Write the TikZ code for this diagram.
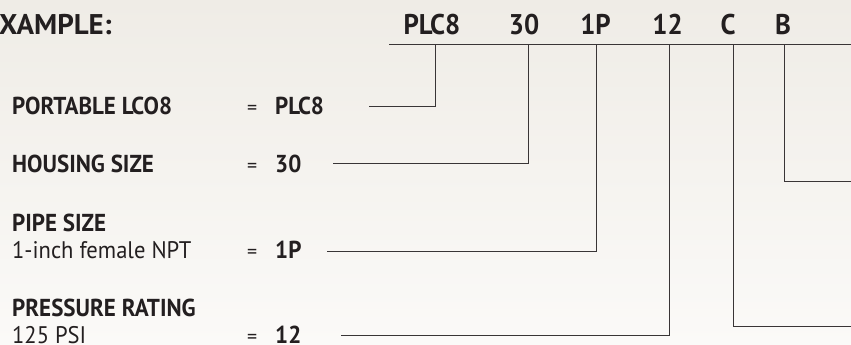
\documentclass[tikz,border=0pt]{standalone}
\usepackage{fontspec}
\setmainfont{PT Sans}
\newfontfamily\condfont[FakeStretch=0.94]{PT Sans}
\usetikzlibrary{calc}
\definecolor{ink}{HTML}{231F20}
\definecolor{bgtop}{HTML}{EFECE6}
\definecolor{bgbot}{HTML}{FBFAF8}
\begin{document}
\begin{tikzpicture}[x=1pt,y=-1pt,
  head/.style={inner sep=0pt,text=ink,font=\condfont\fontsize{28.5}{28.5}\selectfont\bfseries},
  lab/.style={anchor=base west,inner sep=0pt,text=ink,font=\condfont\fontsize{24.5}{24.5}\selectfont\bfseries},
  sub/.style={anchor=base west,inner sep=0pt,text=ink,font=\condfont\fontsize{24}{24}\selectfont},
  eq/.style={anchor=base west,inner sep=0pt,text=ink,font=\fontsize{20}{20}\selectfont},
  conn/.style={draw=ink!90,line width=1pt}]
\useasboundingbox (0,0) rectangle (851,345);
\clip (0,0) rectangle (851,345);
\shade[top color=bgtop,bottom color=bgbot] (0,0) rectangle (851,345);
% header
\node[head,anchor=base west,xscale=1.08] (ex) at (-1,35) {XAMPLE:};
\node[head,anchor=base] (cPLC) at (432,35) {PLC8};
\node[head,anchor=base] (c30) at (524,35) {30};
\node[head,anchor=base] (c1P) at (595.5,35) {1P};
\node[head,anchor=base] (c12) at (667.5,35) {12};
\node[head,anchor=base] (cC) at (728,35) {C};
\node[head,anchor=base] (cB) at (783,35) {B};
\coordinate (bl) at (389,44.5);
\coordinate (br) at (851,44.5);
\draw[conn] (bl) -- (br);
% labels
\node[lab] (l1) at (12,114) {PORTABLE LCO8};
\node[eq] (e1) at (247,114) {=};
\node[lab] (v1) at (275,114) {PLC8};
\node[lab] (l2) at (12,172) {HOUSING SIZE};
\node[eq] (e2) at (247,172) {=};
\node[lab] (v2) at (275,172) {30};
\node[lab] (l3) at (12,231) {PIPE SIZE};
\node[sub] (s3) at (12,258) {1-inch female NPT};
\node[eq] (e3) at (247,258) {=};
\node[lab] (v3) at (275,258) {1P};
\node[lab] (l4) at (12,316) {PRESSURE RATING};
\node[sub] (s4) at (12,343) {125 PSI};
\node[eq] (e4) at (247,343) {=};
\node[lab] (v4) at (275,343) {12};
% connector coordinates
\coordinate (t1) at (435,44.5); \coordinate (h1) at (369,106);
\coordinate (t2) at (528,44.5); \coordinate (h2) at (333,163);
\coordinate (t3) at (596,44.5); \coordinate (h3) at (327,251);
\coordinate (t4) at (669,44.5); \coordinate (h4) at (341,335);
\coordinate (t5) at (733,44.5); \coordinate (h5) at (851,326);
\coordinate (t6) at (784,44.5); \coordinate (h6) at (851,181);
\draw[conn] (t1) |- (h1);
\draw[conn] (t2) |- (h2);
\draw[conn] (t3) |- (h3);
\draw[conn] (t4) |- (h4);
\draw[conn] (t5) |- (h5);
\draw[conn] (t6) |- (h6);
\end{tikzpicture}
\end{document}
